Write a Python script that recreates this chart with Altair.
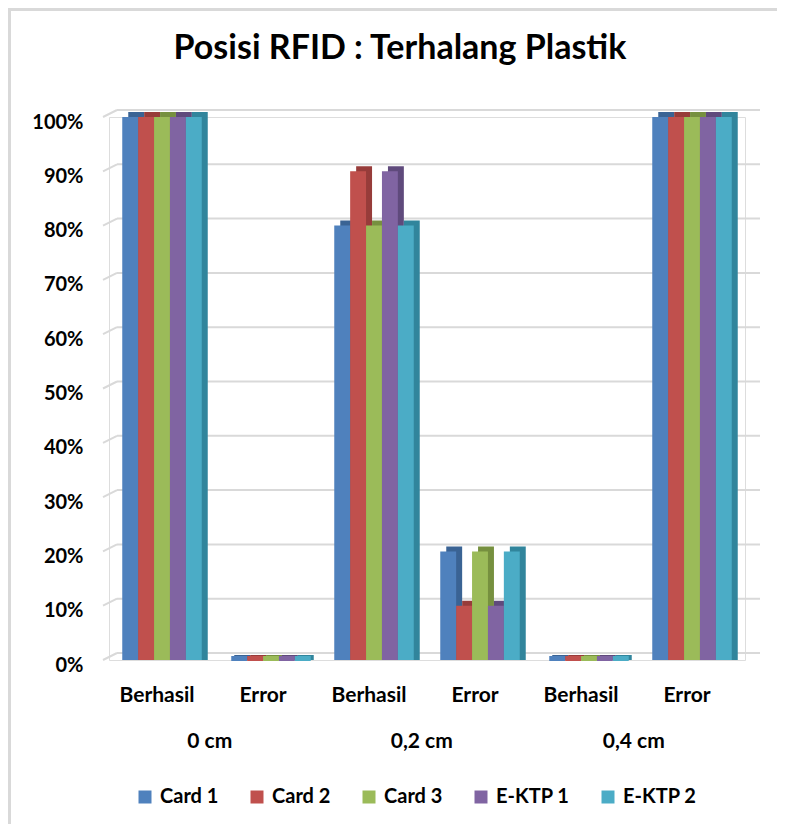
import altair as alt
import pandas as pd

title_text = "Posisi RFID : Terhalang Plastik"
distances = ["0 cm", "0,2 cm", "0,4 cm"]
statuses = ["Berhasil", "Error"]
series = ["Card 1", "Card 2", "Card 3", "E-KTP 1", "E-KTP 2"]
# values per series, order: 0cm Berhasil, 0cm Error, 0,2 Berhasil, 0,2 Error, 0,4 Berhasil, 0,4 Error
card1 = [100, 0, 80, 20, 0, 100]
card2 = [100, 0, 90, 10, 0, 100]
card3 = [100, 0, 80, 20, 0, 100]
ektp1 = [100, 0, 90, 10, 0, 100]
ektp2 = [100, 0, 80, 20, 0, 100]
y_ticks = [0, 10, 20, 30, 40, 50, 60, 70, 80, 90, 100]

colors = ["#4F81BD", "#C0504D", "#9BBB59", "#8064A2", "#4BACC6"]
dark = ["#3A6394", "#973C3A", "#76903F", "#5F4A7C", "#31859C"]

keys = [f"{d}|{s}" for d in distances for s in statuses]
rows = []
for name, vals in zip(series, [card1, card2, card3, ektp1, ektp2]):
    for k, v in zip(keys, vals):
        rows.append({"key": k, "series": name, "pct": v})
df = pd.DataFrame(rows)
ticks_df = pd.DataFrame({"t": y_ticks})
groups_df = pd.DataFrame({"key": [f"{d}|Berhasil" for d in distances], "grp": distances})
title_df = pd.DataFrame({"title": [title_text]})

W, H = 636, 543
BW = 79.5  # band width of each group (step 106 * 0.75)
DEPTH = 6
FONT = "Lato"

xscale = alt.Scale(domain=keys, paddingInner=0.25, paddingOuter=0.125)
yscale = alt.Scale(domain=[0, 100])

xaxis = alt.Axis(title=None, labelExpr="split(datum.label, '|')[1]", labelAngle=0,
                 domain=False, ticks=False, labelPadding=24, labelFontSize=21, labelOffset=-5,
                 labelFont=FONT, labelFontWeight="bold", labelColor="#000000")
yaxis = alt.Axis(title=None, values=y_ticks, labelExpr="datum.value + '%'", domain=False,
                 ticks=False, grid=False, labelPadding=26, labelFontSize=20, labelFont=FONT,
                 labelFontWeight="bold", labelColor="#000000", labelOffset=5)

frame = alt.Chart().mark_rect(fill=None, stroke="#D9D9D9", strokeWidth=3).encode(
    x=alt.value(-99.5), x2=alt.value(W + 60), y=alt.value(-107.5), y2=alt.value(H + 200)
)

title = alt.Chart(title_df).mark_text(font=FONT, fontSize=34, fontWeight="bold", color="#000000",
                                      baseline="alphabetic", align="center").encode(
    x=alt.value(291), y=alt.value(-58), text="title:N"
)

grid = alt.Chart(ticks_df).mark_rule(color="#D9D9D9", strokeWidth=2, yOffset=-7).encode(
    y=alt.Y("t:Q", scale=yscale, axis=yaxis),
    x=alt.value(8), x2=alt.value(W + 15),
)
slant = alt.Chart(ticks_df).mark_rule(color="#D9D9D9", strokeWidth=2, y2Offset=-7).encode(
    y=alt.Y("t:Q", scale=yscale),
    y2="t:Q",
    x=alt.value(-6), x2=alt.value(8),
)

shadow = alt.Chart(df).mark_bar(yOffset=-5, y2Offset=-5).encode(
    x=alt.X("key:N", scale=xscale, axis=xaxis, sort=keys),
    xOffset=alt.XOffset("series:N", sort=series,
                        scale=alt.Scale(domain=series, range=[DEPTH, BW + DEPTH],
                                        paddingInner=0, paddingOuter=0)),
    y=alt.Y("pct:Q", scale=yscale, stack=None),
    color=alt.Color("series:N", sort=series, scale=alt.Scale(domain=series, range=dark), legend=None),
)

flat = alt.Chart(df).transform_filter("datum.pct == 0").mark_bar(yOffset=-4, y2Offset=1).encode(
    x=alt.X("key:N", scale=xscale, sort=keys),
    xOffset=alt.XOffset("series:N", sort=series,
                        scale=alt.Scale(domain=series, range=[3, BW + 3],
                                        paddingInner=0, paddingOuter=0)),
    y=alt.Y("pct:Q", scale=yscale, stack=None),
    y2=alt.Y2("pct:Q"),
    color=alt.Color("series:N", sort=series, scale=alt.Scale(domain=series, range=colors), legend=None),
)

front = alt.Chart(df).mark_bar().encode(
    x=alt.X("key:N", scale=xscale, sort=keys),
    xOffset=alt.XOffset("series:N", sort=series,
                        scale=alt.Scale(domain=series, range=[0, BW], paddingInner=0, paddingOuter=0)),
    y=alt.Y("pct:Q", scale=yscale, stack=None),
    color=alt.Color("series:N", sort=series, scale=alt.Scale(domain=series, range=colors),
                    legend=alt.Legend(title=None, orient="none", direction="horizontal",
                                      legendX=26, legendY=670, columns=5, columnPadding=28,
                                      symbolType="square", symbolSize=169, symbolStrokeWidth=0,
                                      labelFont=FONT, labelFontSize=20, labelFontWeight="bold",
                                      labelColor="#000000", labelOffset=5)),
)

glabels = alt.Chart(groups_df).mark_text(font=FONT, fontSize=21, fontWeight="bold", color="#000000",
                                         dx=8).encode(
    x=alt.X("key:N", scale=xscale, bandPosition=1),
    y=alt.value(625),
    text="grp:N",
)

chart = alt.layer(frame, title, grid, slant, shadow, flat, front, glabels).resolve_scale(
    color="independent", xOffset="independent"
).properties(
    width=W, height=H,
    autosize=alt.AutoSizeParams(type="none"),
    padding={"left": 101, "top": 109, "right": 32, "bottom": 164},
).configure_view(stroke=None).configure(background="white")

chart.save("out.html", embed_options={"renderer": "svg", "actions": False})
